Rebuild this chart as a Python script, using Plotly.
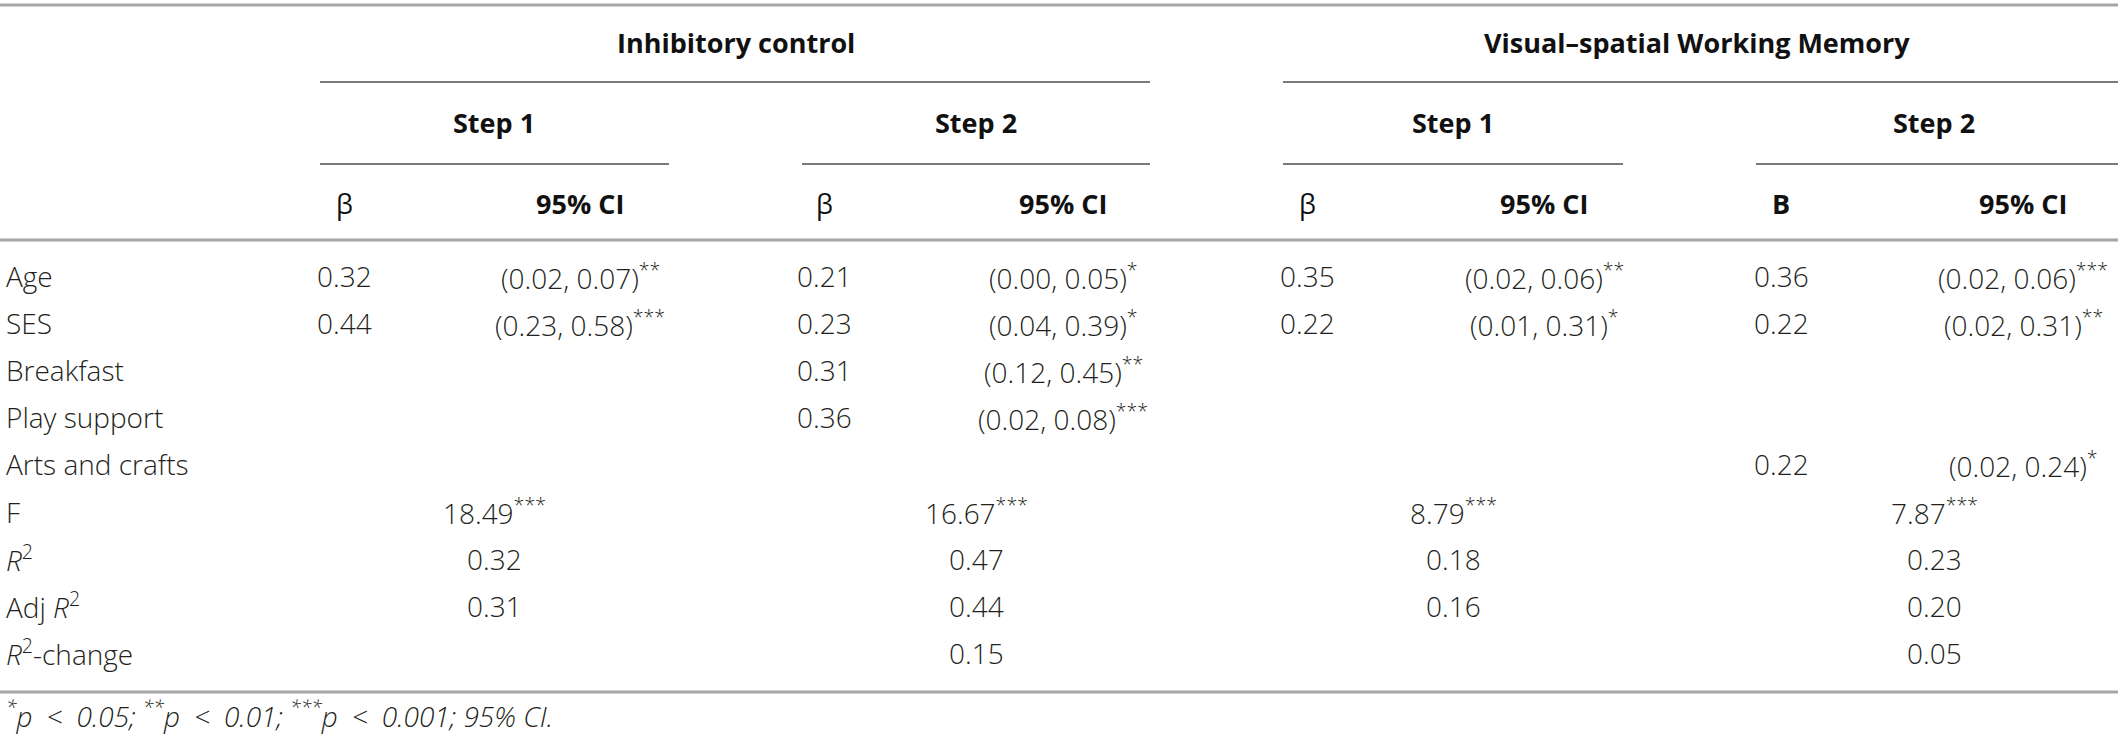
import plotly.graph_objects as go

# ---------------- data ----------------
row_labels = ["Age", "SES", "Breakfast", "Play support", "Arts and crafts"]
stat_labels = ["F", "<i>R</i><sup>2</sup>", "Adj <i>R</i><sup>2</sup>", "<i>R</i><sup>2</sup>-change"]

groups = ["Inhibitory control", "Visual\u2013spatial Working Memory"]
steps = ["Step 1", "Step 2", "Step 1", "Step 2"]
coef_headers = ["\u03b2", "\u03b2", "\u03b2", "B"]
ci_header = "95% CI"

ic1_beta = ["0.32", "0.44", "", "", ""]
ic1_ci = ["(0.02, 0.07)**", "(0.23, 0.58)***", "", "", ""]
ic2_beta = ["0.21", "0.23", "0.31", "0.36", ""]
ic2_ci = ["(0.00, 0.05)*", "(0.04, 0.39)*", "(0.12, 0.45)**", "(0.02, 0.08)***", ""]
vs1_beta = ["0.35", "0.22", "", "", ""]
vs1_ci = ["(0.02, 0.06)**", "(0.01, 0.31)*", "", "", ""]
vs2_beta = ["0.36", "0.22", "", "", "0.22"]
vs2_ci = ["(0.02, 0.06)***", "(0.02, 0.31)**", "", "", "(0.02, 0.24)*"]

f_values = ["18.49***", "16.67***", "8.79***", "7.87***"]
r2_values = ["0.32", "0.47", "0.18", "0.23"]
adj_r2_values = ["0.31", "0.44", "0.16", "0.20"]
r2_change_values = ["", "0.15", "", "0.05"]

footnote = ("<i><sup>*</sup>p\u2002<\u20020.05; <sup>**</sup>p\u2002<\u20020.01; "
            "<sup>***</sup>p\u2002<\u20020.001; 95% CI.</i>")

# ---------------- layout geometry ----------------
W, H = 2118, 738
beta_x = [344, 824, 1307, 1781]
ci_x = [580, 1063, 1544, 2023]
step_x = [494, 976, 1453, 1934]
group_x = [736, 1697]
label_x = 4
row_y0, row_dy = 276, 47.1

def sup_stars(s):
    core = s.rstrip("*")
    stars = s[len(core):]
    return core + (f"<sup>{stars}</sup>" if stars else "")

BODY = dict(family="Open Sans", size=28, color="#231f20", weight=300)
BOLD = dict(family="Open Sans", size=27, color="#111111", weight=700)
BETA = dict(family="Open Sans", size=27, color="#111111", weight=400)

fig = go.Figure()
annotations = []

def add_text(xs, ys, texts, anchor, font):
    for x, y, t in zip(xs, ys, texts):
        if not t:
            continue
        annotations.append(dict(x=x, y=y, xref="x", yref="y", text=t,
                                showarrow=False, xanchor=anchor, yanchor="middle",
                                font=font))

n_rows = len(row_labels)
all_labels = row_labels + stat_labels
ys_all = [row_y0 + i * row_dy for i in range(len(all_labels))]
ys_rows = ys_all[:n_rows]
ys_stats = ys_all[n_rows:]

# row labels
add_text([label_x] * len(all_labels), ys_all, all_labels, "left", BODY)

# coefficient / CI columns
betas = [ic1_beta, ic2_beta, vs1_beta, vs2_beta]
cis = [ic1_ci, ic2_ci, vs1_ci, vs2_ci]
for k in range(4):
    add_text([beta_x[k]] * n_rows, ys_rows, betas[k], "center", BODY)
    add_text([ci_x[k]] * n_rows, ys_rows, [sup_stars(c) for c in cis[k]], "center", BODY)

# statistics rows
for k in range(4):
    vals = [sup_stars(f_values[k]), r2_values[k], adj_r2_values[k], r2_change_values[k]]
    add_text([step_x[k]] * 4, ys_stats, vals, "center", BODY)

# headers
add_text(group_x, [42, 42], groups, "center", BOLD)
add_text(step_x, [122] * 4, steps, "center", BOLD)
add_text(beta_x[:3], [203] * 3, coef_headers[:3], "center", BETA)
add_text([beta_x[3]], [203], [coef_headers[3]], "center", BOLD)
add_text(ci_x, [203] * 4, [ci_header] * 4, "center", BOLD)

# footnote
add_text([label_x], [714], [footnote], "left",
         dict(family="Open Sans", size=28, color="#231f20", weight=300))

# rules
shapes = []
main_rule = dict(color="#a6a6a6", width=3)
sub_rule = dict(color="#7a7a7a", width=2)
for y in (5, 240, 692):
    shapes.append(dict(type="line", xref="x", yref="y", x0=0, x1=W, y0=y, y1=y, line=main_rule))
for x0, x1 in [(320, 1150), (1283, 2118)]:
    shapes.append(dict(type="line", xref="x", yref="y", x0=x0, x1=x1, y0=82, y1=82, line=sub_rule))
for x0, x1 in [(320, 669), (802, 1150), (1283, 1623), (1756, 2118)]:
    shapes.append(dict(type="line", xref="x", yref="y", x0=x0, x1=x1, y0=164, y1=164, line=sub_rule))

# invisible anchor trace so the axes exist
fig.add_trace(go.Scatter(x=[0, W], y=[0, H], mode="markers",
                         marker=dict(opacity=0), hoverinfo="skip", showlegend=False))

fig.update_layout(
    width=W, height=H,
    margin=dict(l=0, r=0, t=0, b=0),
    paper_bgcolor="white", plot_bgcolor="white",
    xaxis=dict(range=[0, W], visible=False, fixedrange=True),
    yaxis=dict(range=[H, 0], visible=False, fixedrange=True),
    shapes=shapes,
    annotations=annotations,
)

fig.write_html("out.html", config={"displayModeBar": False},
               post_script="document.body.style.margin='0';document.body.style.overflow='hidden';")
